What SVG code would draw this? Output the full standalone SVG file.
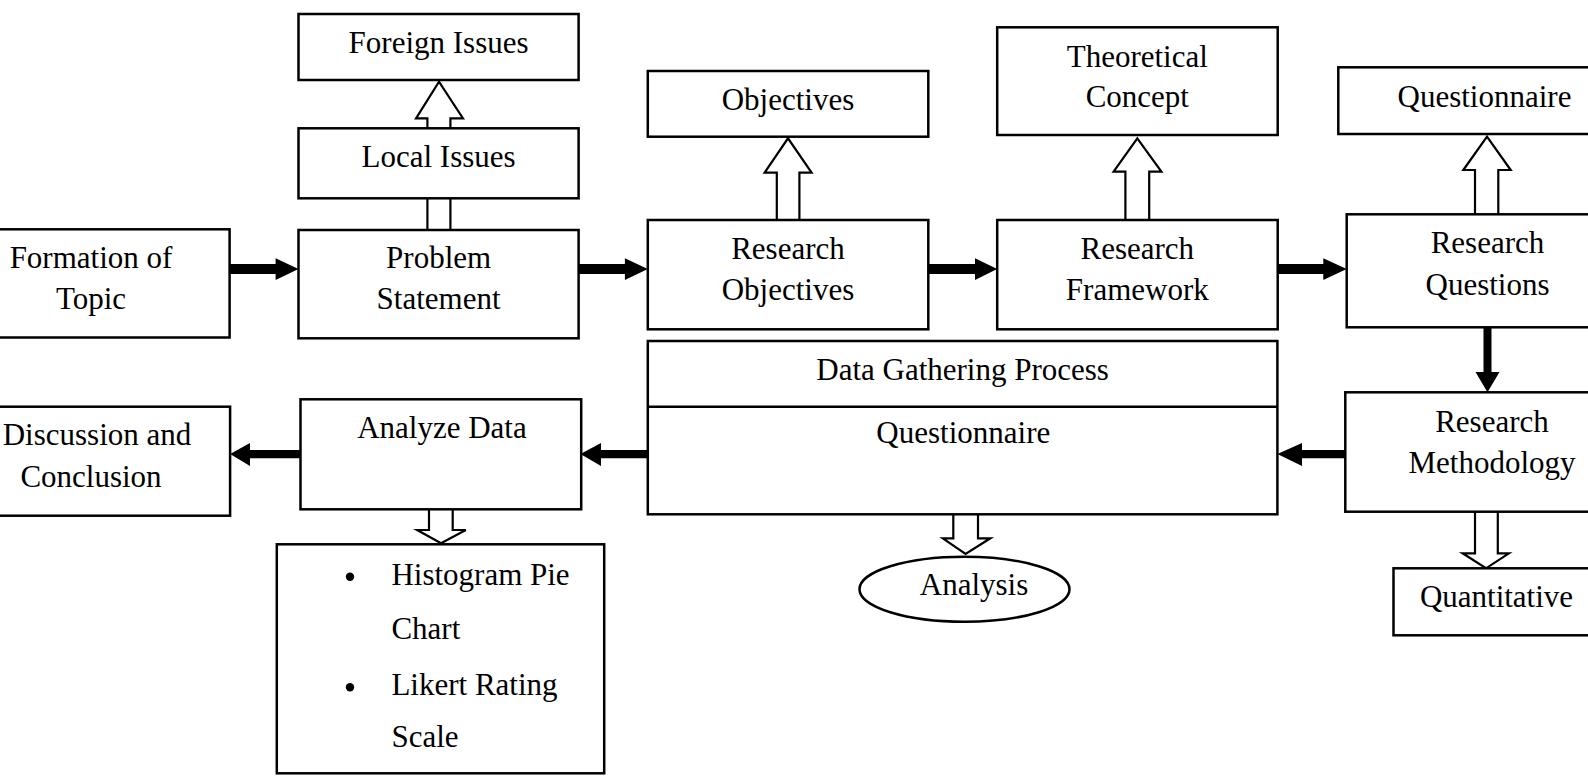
<svg xmlns="http://www.w3.org/2000/svg" width="1588" height="776" viewBox="0 0 1588 776">
<style>
.box{fill:#fff;stroke:#000;stroke-width:2.5}
.t{font-family:"Liberation Serif","Times New Roman",serif;font-size:31px;fill:#000;text-anchor:middle}
.tl{font-family:"Liberation Serif","Times New Roman",serif;font-size:31px;fill:#000}
.hollow{fill:#fff;stroke:#000;stroke-width:2.2;stroke-linejoin:miter}
.solid{fill:#000;stroke:none}
.ln{stroke:#000;stroke-width:2.2;fill:none}
</style>
<rect width="1588" height="776" fill="#fff"/>

<g id="connectors">
  <!-- Problem Statement to Local Issues (plain double line) -->
  <line class="ln" x1="427.4" y1="198.3" x2="427.4" y2="230"/>
  <line class="ln" x1="450.4" y1="198.3" x2="450.4" y2="230"/>
  <!-- hollow up arrows -->
  <path class="hollow" d="M427.4 128.3 L427.4 118.3 L416 118.3 L439 81.7 L463 118.3 L450.4 118.3 L450.4 128.3"/>
  <path class="hollow" d="M776.8 220 L776.8 172.7 L764.6 172.7 L788 138.3 L811.6 172.7 L799.4 172.7 L799.4 220"/>
  <path class="hollow" d="M1125.4 220 L1125.4 171.7 L1113.6 171.7 L1137.3 138.3 L1161.4 171.7 L1149.2 171.7 L1149.2 220"/>
  <path class="hollow" d="M1475 214.3 L1475 170 L1463.3 170 L1487 136.7 L1510.7 170 L1498.3 170 L1498.3 214.3"/>
  <!-- hollow down arrows -->
  <path class="hollow" d="M429 509.3 L429 530 L417.2 530 L441 543.3 L465.8 530 L452.7 530 L452.7 509.3"/>
  <path class="hollow" d="M953.3 514.3 L953.3 538.3 L942.8 538.3 L965.6 554 L990.4 538.3 L978 538.3 L978 514.3"/>
  <path class="hollow" d="M1475 511.7 L1475 553.3 L1462.6 553.3 L1486 568.3 L1508.9 553.3 L1497.8 553.3 L1497.8 511.7"/>
  <!-- solid arrows, top row -->
  <path class="solid" d="M229.6 264 L275.6 264 L275.6 258.3 L298.5 269 L275.6 280 L275.6 274 L229.6 274 Z"/>
  <path class="solid" d="M578.6 264 L624.9 264 L624.9 258.3 L647.8 269 L624.9 280 L624.9 274 L578.6 274 Z"/>
  <path class="solid" d="M928.3 264 L975 264 L975 258.3 L997.2 269 L975 280 L975 274 L928.3 274 Z"/>
  <path class="solid" d="M1277.7 264 L1323.3 264 L1323.3 258.3 L1346.7 269 L1323.3 280 L1323.3 274 L1277.7 274 Z"/>
  <!-- vertical solid arrow Research Questions to Research Methodology -->
  <path class="solid" d="M1483.5 327.3 L1491.5 327.3 L1491.5 372 L1499.5 372 L1487.5 392.3 L1475.5 372 L1483.5 372 Z"/>
  <!-- solid arrows, bottom row (pointing left) -->
  <path class="solid" d="M1345.3 450 L1302 450 L1302 443 L1277.4 454 L1302 466 L1302 458.3 L1345.3 458.3 Z"/>
  <path class="solid" d="M647.8 450 L601 450 L601 443 L580.4 454 L601 466 L601 458.3 L647.8 458.3 Z"/>
  <path class="solid" d="M300.5 450 L250 450 L250 443 L230.1 454 L250 466 L250 458.3 L300.5 458.3 Z"/>
</g>

<g id="foreign-issues">
  <rect class="box" x="298.5" y="14" width="280.1" height="66"/>
  <text class="t" x="438.6" y="53.3">Foreign Issues</text>
</g>
<g id="local-issues">
  <rect class="box" x="298.5" y="128.3" width="280.1" height="70"/>
  <text class="t" x="438.6" y="166.7">Local Issues</text>
</g>
<g id="formation-of-topic">
  <rect class="box" x="-48" y="229.3" width="277.6" height="108.2"/>
  <text class="t" x="91" y="268.3">Formation of</text>
  <text class="t" x="91" y="308.8">Topic</text>
</g>
<g id="problem-statement">
  <rect class="box" x="298.5" y="230" width="280.1" height="108.3"/>
  <text class="t" x="438.6" y="268.3">Problem</text>
  <text class="t" x="438.6" y="309.3">Statement</text>
</g>
<g id="objectives">
  <rect class="box" x="647.8" y="71" width="280.5" height="65.7"/>
  <text class="t" x="788" y="110">Objectives</text>
</g>
<g id="research-objectives">
  <rect class="box" x="647.8" y="220" width="280.5" height="109.3"/>
  <text class="t" x="788" y="259.3">Research</text>
  <text class="t" x="788" y="300">Objectives</text>
</g>
<g id="theoretical-concept">
  <rect class="box" x="997.2" y="27.3" width="280.5" height="107.7"/>
  <text class="t" x="1137.3" y="66.7">Theoretical</text>
  <text class="t" x="1137.3" y="107.3">Concept</text>
</g>
<g id="research-framework">
  <rect class="box" x="997.2" y="220" width="280.5" height="109.3"/>
  <text class="t" x="1137.3" y="259.3">Research</text>
  <text class="t" x="1137.3" y="300">Framework</text>
</g>
<g id="questionnaire-top">
  <rect class="box" x="1338.3" y="67.3" width="300" height="66.7"/>
  <text class="t" x="1484.5" y="106.7">Questionnaire</text>
</g>
<g id="research-questions">
  <rect class="box" x="1346.7" y="214.3" width="300" height="113"/>
  <text class="t" x="1487.5" y="253.3">Research</text>
  <text class="t" x="1487.5" y="295">Questions</text>
</g>
<g id="research-methodology">
  <rect class="box" x="1345.3" y="392.3" width="300" height="119.4"/>
  <text class="t" x="1492" y="431.7">Research</text>
  <text class="t" x="1492" y="472.7">Methodology</text>
</g>
<g id="quantitative">
  <rect class="box" x="1393.5" y="568.3" width="250" height="67"/>
  <text class="t" x="1496.5" y="606.7">Quantitative</text>
</g>
<g id="data-gathering-process">
  <rect class="box" x="647.8" y="341" width="629.6" height="173.3"/>
  <line class="ln" x1="647.8" y1="406.7" x2="1277.4" y2="406.7" style="stroke-width:2.5"/>
  <text class="t" x="962.6" y="380">Data Gathering Process</text>
  <text class="t" x="963.3" y="443.3">Questionnaire</text>
</g>
<g id="analysis">
  <ellipse class="box" cx="964.5" cy="589.2" rx="105" ry="32.5"/>
  <text class="t" x="974" y="595">Analysis</text>
</g>
<g id="analyze-data">
  <rect class="box" x="300.5" y="399.3" width="280.7" height="110"/>
  <text class="t" x="441.9" y="438.3">Analyze Data</text>
</g>
<g id="discussion-and-conclusion">
  <rect class="box" x="-48" y="406.7" width="278.1" height="109"/>
  <text class="t" x="97" y="445">Discussion and</text>
  <text class="t" x="91" y="486.7">Conclusion</text>
</g>
<g id="analysis-methods">
  <rect class="box" x="276.8" y="544.3" width="327.4" height="229"/>
  <circle cx="350" cy="576.7" r="4.2" fill="#000"/>
  <circle cx="350" cy="687.3" r="4.2" fill="#000"/>
  <text class="tl" x="391.4" y="585">Histogram Pie</text>
  <text class="tl" x="391.4" y="639.3">Chart</text>
  <text class="tl" x="391.4" y="695">Likert Rating</text>
  <text class="tl" x="391.4" y="747.3">Scale</text>
</g>
</svg>
